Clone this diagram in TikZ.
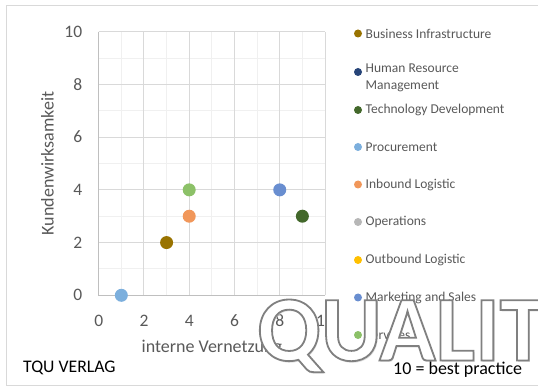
\documentclass[tikz,border=0pt]{standalone}
\usepackage{fontspec}
\setmainfont{Carlito}
\definecolor{txtgray}{HTML}{595959}
\definecolor{framec}{HTML}{D9D9D9}
\definecolor{majgrid}{HTML}{D9D9D9}
\definecolor{mingrid}{HTML}{F0F0F0}
\definecolor{axisc}{HTML}{BFBFBF}
\definecolor{cBI}{HTML}{997300}
\definecolor{cHR}{HTML}{264478}
\definecolor{cTD}{HTML}{43682B}
\definecolor{cPR}{HTML}{7CAFDD}
\definecolor{cIL}{HTML}{F1975A}
\definecolor{cOP}{HTML}{B7B7B7}
\definecolor{cOL}{HTML}{FFC000}
\definecolor{cMS}{HTML}{698ED0}
\definecolor{cSV}{HTML}{8CC168}
\newcommand{\outlinetext}[1]{\special{pdf:literal direct q 0.5 0.5 0.5 RG 1 1 1 rg 2 Tr 1.8 w}#1\special{pdf:literal direct 0 Tr Q}}
\tikzset{
  dot/.style={circle,inner sep=0pt,minimum size=13pt,fill=#1,draw=none},
  legdot/.style={circle,inner sep=0pt,minimum size=8pt,fill=#1,draw=none},
  legtext/.style={anchor=west,inner sep=0pt,text=txtgray,font=\fontsize{13.5}{17}\selectfont,align=left},
  ticklab/.style={text=txtgray,font=\fontsize{17.5}{20}\selectfont,inner sep=0pt},
  axtitle/.style={text=txtgray,font=\fontsize{18}{21}\selectfont,inner sep=0pt},
  wmfont/.style={font=\fontsize{93}{93}\bfseries\selectfont},
}
\begin{document}
\begin{tikzpicture}[x=1pt,y=-1pt]
\useasboundingbox (0,0) rectangle (538,387);
\fill[white] (0,0) rectangle (538,387);
\draw[framec,line width=1pt] (6,6) rectangle (560,385);
\begin{scope}[shift={(98.7,295.3)},x=22.63pt,y=26.36pt]
  \foreach \i in {1,3,5,7,9} {
    \draw[mingrid,line width=1pt] (\i,0) -- (\i,10);
    \draw[mingrid,line width=1pt] (0,\i) -- (10,\i);
  }
  \foreach \i in {2,4,6,8,10} {
    \draw[majgrid,line width=1pt] (\i,0) -- (\i,10);
    \draw[majgrid,line width=1pt] (0,\i) -- (10,\i);
  }
  \draw[axisc,line width=1pt] (0,10) -- (0,0) -- (10,0);
  \foreach \i in {0,2,4,6,8,10} {
    \node[ticklab,anchor=east] (yl\i) at (-0.72,\i) {\i};
    \node[ticklab] (xl\i) at (\i,-0.97) {\i};
  }
  \node[axtitle] (xt) at (5,-2.0) {interne Vernetzung};
  \node[axtitle,rotate=90] (yt) at (-2.27,5) {Kundenwirksamkeit};
  \node[dot=cBI] (pBI) at (3,2) {};
  \node[dot=cTD] (pTD) at (9,3) {};
  \node[dot=cPR] (pPR) at (1,0) {};
  \node[dot=cIL] (pIL) at (4,3) {};
  \node[dot=cMS] (pMS) at (8,4) {};
  \node[dot=cSV] (pSV) at (4,4) {};
\end{scope}
% legend
\node[legdot=cBI] (lBI) at (358,33.5) {};
\node[legtext] (tBI) at (365.5,33.5) {Business Infrastructure};
\node[legdot=cHR] (lHR) at (358,72) {};
\node[legtext,anchor=north west] (tHR) at (365.5,64) {Human Resource\\Management};
\node[legdot=cTD] (lTD) at (358,110) {};
\node[legtext] (tTD) at (365.5,110) {Technology Development};
\node[legdot=cPR] (lPR) at (358,147) {};
\node[legtext] (tPR) at (365.5,147) {Procurement};
\node[legdot=cIL] (lIL) at (358,184.5) {};
\node[legtext] (tIL) at (365.5,184.5) {Inbound Logistic};
\node[legdot=cOP] (lOP) at (358,222) {};
\node[legtext] (tOP) at (365.5,222) {Operations};
\node[legdot=cOL] (lOL) at (358,260) {};
\node[legtext] (tOL) at (365.5,260) {Outbound Logistic};
\node[legdot=cMS] (lMS) at (358,297.5) {};
\node[legtext] (tMS) at (365.5,297.5) {Marketing and Sales};
\node[legdot=cSV] (lSV) at (358,335) {};
\node[legtext] (tSV) at (365.5,335) {Services};
% watermark
\node[anchor=base west,inner sep=0pt,wmfont,text=black!13] (wms) at (258.5,362) {QUALIT};
\node[anchor=base west,inner sep=0pt,wmfont] (wm) at (257,360.5) {\outlinetext{QUALIT}};
% footer texts
\node[anchor=west,inner sep=0pt,font=\fontsize{17.7}{20}\selectfont] (tqu) at (23,368) {TQU VERLAG};
\node[anchor=west,inner sep=0pt,font=\fontsize{18}{20}\selectfont] (bp) at (393,370) {10 = best practice};
\end{tikzpicture}
\end{document}
